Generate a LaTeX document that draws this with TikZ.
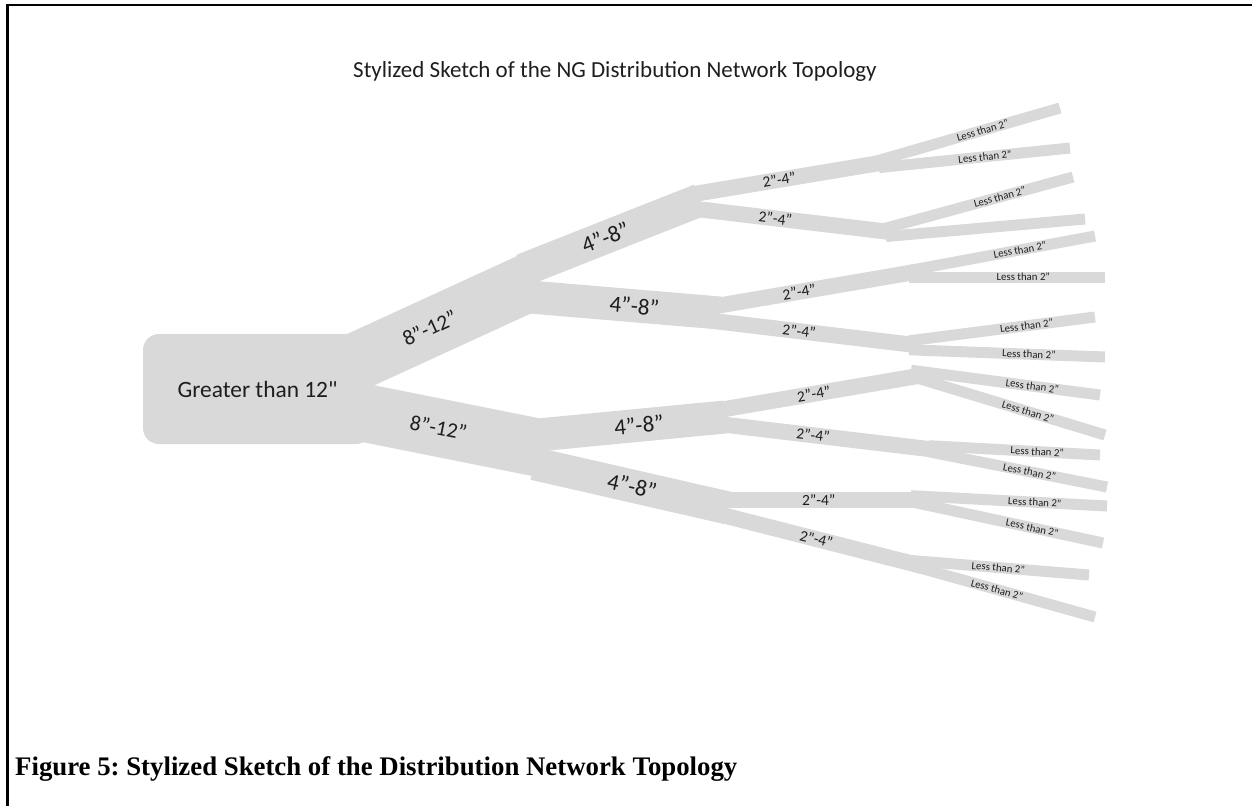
\documentclass[tikz,border=0pt]{standalone}
\usepackage{fontspec}
\setmainfont{Carlito}
\newfontfamily\capfont{Liberation Serif}
\usepackage{tikz}
\usetikzlibrary{calc,positioning}
\definecolor{PipeGray}{HTML}{D9D9D9}
\definecolor{LabelInk}{HTML}{1E1E1E}
\frenchspacing
% straight double quote, kept out of the tex-text mapping
\newcommand{\straightquote}{\XeTeXglyph\XeTeXcharglyph"22\relax}

\begin{document}
\begin{tikzpicture}[x=1pt, y=-1pt,
  pipe/.style={draw=PipeGray, line cap=butt, shorten <=-6pt},
  size12/.style={pipe, line width=58pt},
  size8/.style={pipe, line width=33pt},
  size4/.style={pipe, line width=16pt},
  size2/.style={pipe, line width=11pt},
  lbl/.style={text=LabelInk, inner sep=0pt, sloped},
  lbl12/.style={lbl, font=\fontsize{21.5}{21.5}\selectfont},
  lbl8/.style={lbl, font=\fontsize{23}{23}\selectfont},
  lbl4/.style={lbl, font=\fontsize{15.5}{15.5}\selectfont},
  lbl2/.style={lbl, font=\fontsize{10.8}{10.8}\selectfont},
  trunk/.style={fill=PipeGray, rounded corners=16pt, inner sep=0pt,
    minimum width=229pt, minimum height=110pt, text=LabelInk,
    font=\fontsize{23.4}{23.4}\selectfont}]
  \useasboundingbox (0,0) rectangle (1252,806);
  % page frame
  \draw[line width=3pt] (7.5,5) -- (7.5,806);
  \draw[line width=1.2pt] (6,5) -- (1252,5);

  \node[text=LabelInk, font=\fontsize{23}{27}\selectfont, anchor=base west, inner sep=0pt]
    (title) at (353,77) {Stylized Sketch of the NG Distribution Network Topology};

  % junctions
  \coordinate (r1) at (360,360);
  \coordinate (r2) at (365,413);
  \coordinate (m1) at (530,282);
  \coordinate (m2) at (540,448);
  \coordinate (b1s) at (528,268); \coordinate (b1) at (700,200);
  \coordinate (b2s) at (530,297); \coordinate (b2) at (720,313);
  \coordinate (b3s) at (538,435); \coordinate (b3) at (725,417);
  \coordinate (b4s) at (540,465); \coordinate (b4) at (728,508);
  \coordinate (c1s) at (700,193); \coordinate (c1) at (880,163);
  \coordinate (c2s) at (705,210); \coordinate (c2) at (890,232);
  \coordinate (c3s) at (722,305); \coordinate (c3) at (915,272);
  \coordinate (c4s) at (722,322); \coordinate (c4) at (915,345);
  \coordinate (c5s) at (725,409); \coordinate (c5) at (918,376);
  \coordinate (c6s) at (727,425); \coordinate (c6) at (937,450);
  \coordinate (c7s) at (728,500); \coordinate (c7) at (917,500);
  \coordinate (c8s) at (730,517); \coordinate (c8) at (922,566);
  % service line ends
  \coordinate (t1) at (1060,108);  \coordinate (t2) at (1070,148);
  \coordinate (t3) at (1073,177);  \coordinate (t4) at (1085,219);
  \coordinate (t5) at (1095,236);  \coordinate (t6) at (1105,277);
  \coordinate (t7) at (1095,317);  \coordinate (t8) at (1105,357);
  \coordinate (t9) at (1100,395);  \coordinate (t10) at (1105,435);
  \coordinate (t11) at (1100,455); \coordinate (t12) at (1107,487);
  \coordinate (t13) at (1107,506); \coordinate (t14) at (1103,543);
  \coordinate (t15) at (1089,575); \coordinate (t16) at (1095,617);

  \node[trunk] (root) at (257.5,389) {Greater than 12\straightquote};

  % 8"-12" mains
  \draw[size12] (r1) -- node[lbl12, pos=0.41] {8”-12”} (m1);
  \draw[size12] (r2) -- node[lbl12, pos=0.42] {8”-12”} (m2);

  % 4"-8"
  \draw[size8] (b1s) -- node[lbl8, pos=0.45] {4”-8”} (b1);
  \draw[size8] (b2s) -- node[lbl8, pos=0.55] {4”-8”} (b2);
  \draw[size8] (b3s) -- node[lbl8, pos=0.54] {4”-8”} (b3);
  \draw[size8] (b4s) -- node[lbl8, pos=0.49] {4”-8”} (b4);

  % 2"-4"
  \draw[size4] (c1s) -- node[lbl4, pos=0.44] {2”-4”} (c1);
  \draw[size4] (c2s) -- node[lbl4, pos=0.38] {2”-4”} (c2);
  \draw[size4] (c3s) -- node[lbl4, pos=0.40] {2”-4”} (c3);
  \draw[size4] (c4s) -- node[lbl4, pos=0.40] {2”-4”} (c4);
  \draw[size4] (c5s) -- node[lbl4, pos=0.46] {2”-4”} (c5);
  \draw[size4] (c6s) -- node[lbl4, pos=0.41] {2”-4”} (c6);
  \draw[size4] (c7s) -- node[lbl4, pos=0.48] {2”-4”} (c7);
  \draw[size4] (c8s) -- node[lbl4, pos=0.45] {2”-4”} (c8);

  % less than 2"
  \draw[size2] ($(c1)+(0,-3)$) -- node[lbl2, pos=0.57] {Less than 2”} (t1);
  \draw[size2] ($(c1)+(5,4)$) -- node[lbl2, pos=0.54] {Less than 2”} (t2);
  \draw[size2] ($(c2)+(0,-5)$) -- node[lbl2, pos=0.60] {Less than 2”} (t3);
  \draw[size2] ($(c2)+(2,4)$) -- (t4);
  \draw[size2] ($(c3)+(-3,-2)$) -- node[lbl2, pos=0.59] {Less than 2”} (t5);
  \draw[size2] ($(c3)+(0,5)$) -- node[lbl2, pos=0.57] {Less than 2”} (t6);
  \draw[size2] ($(c4)+(0,-5)$) -- node[lbl2, pos=0.62] {Less than 2”} (t7);
  \draw[size2] ($(c4)+(0,5)$) -- node[lbl2, pos=0.60] {Less than 2”} (t8);
  \draw[size2] ($(c5)+(-1,-5)$) -- node[lbl2, pos=0.63] {Less than 2”} (t9);
  \draw[size2] ($(c5)+(-1,2)$) -- node[lbl2, pos=0.59] {Less than 2”} (t10);
  \draw[size2] ($(c6)+(-2,-4)$) -- node[lbl2, pos=0.62] {Less than 2”} (t11);
  \draw[size2] ($(c6)+(-2,3)$) -- node[lbl2, pos=0.55] {Less than 2”} (t12);
  \draw[size2] ($(c7)+(0,-4)$) -- node[lbl2, pos=0.62] {Less than 2”} (t13);
  \draw[size2] ($(c7)+(0,3)$) -- node[lbl2, pos=0.62] {Less than 2”} (t14);
  \draw[size2] ($(c8)+(-4,-5)$) -- node[lbl2, pos=0.47] {Less than 2”} (t15);
  \draw[size2] ($(c8)+(-2,2)$) -- node[lbl2, pos=0.44] {Less than 2”} (t16);

  \node[font={\capfont\fontsize{26.8}{31}\selectfont\bfseries}, anchor=base west, inner sep=0pt]
    (caption) at (15,775) {Figure 5: Stylized Sketch of the Distribution Network Topology};
\end{tikzpicture}
\end{document}
